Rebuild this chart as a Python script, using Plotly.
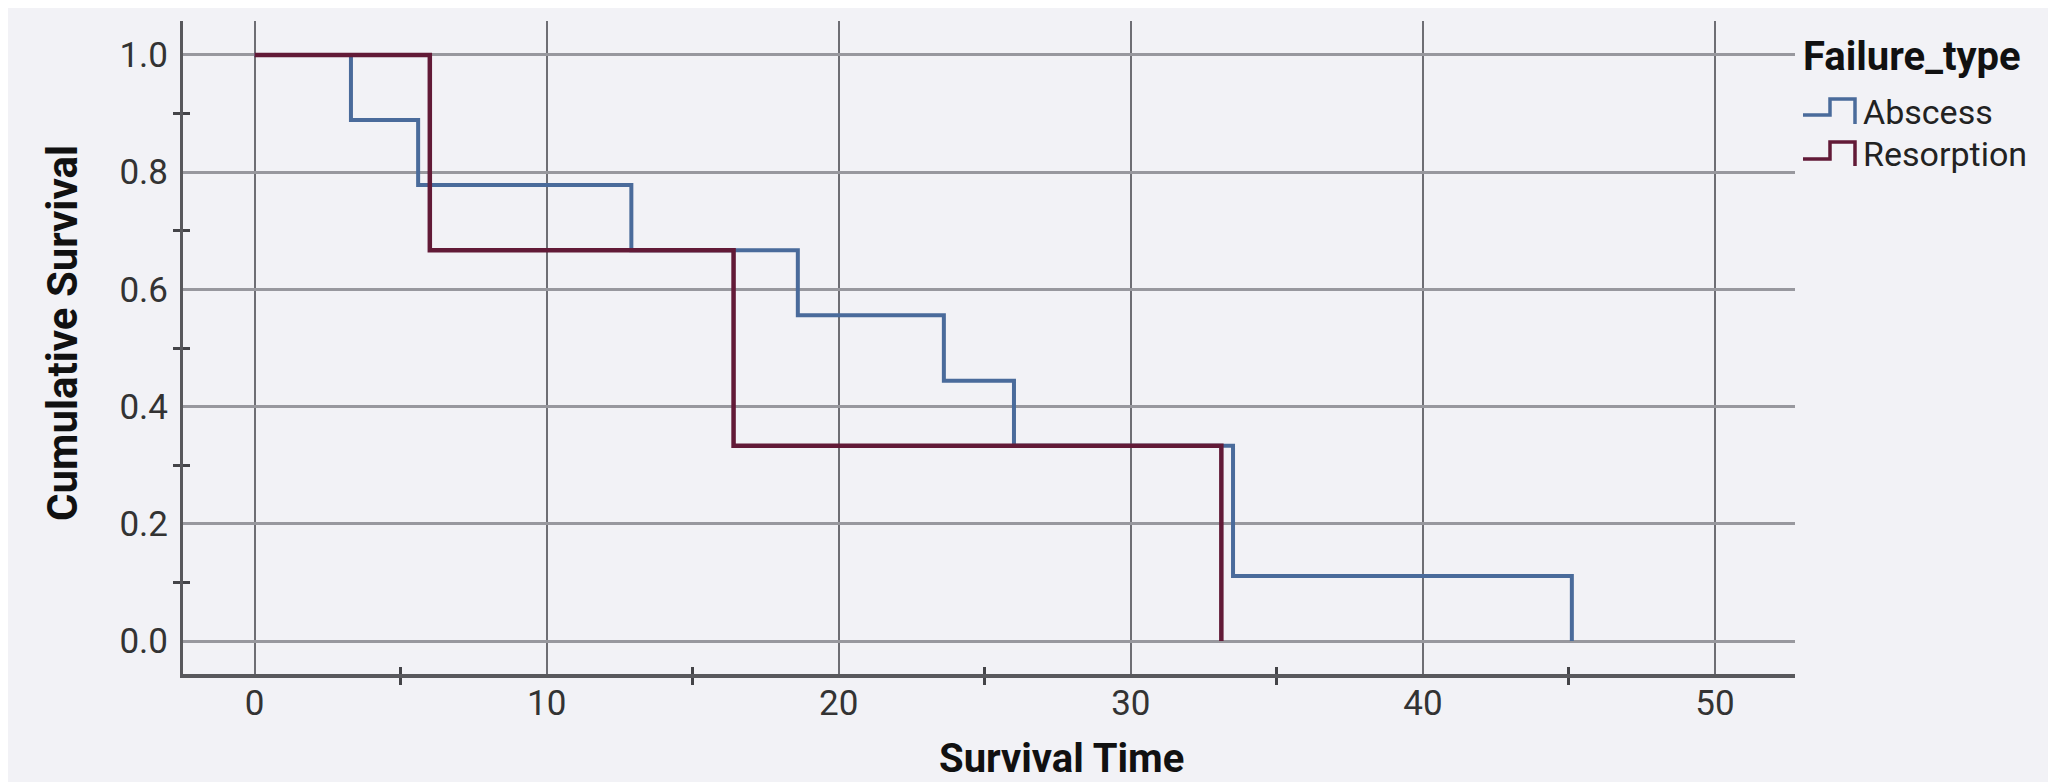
import plotly.graph_objects as go

# ---- data ----
abscess_time = [0, 3.3, 5.6, 12.9, 18.6, 23.6, 26.0, 33.5, 45.1]
abscess_surv = [1.0, 0.889, 0.778, 0.667, 0.556, 0.444, 0.333, 0.111, 0.0]
resorption_time = [0, 6.0, 16.4, 33.1]
resorption_surv = [1.0, 0.667, 0.333, 0.0]
series_names = ["Abscess", "Resorption"]
x_ticks = [0, 10, 20, 30, 40, 50]
y_ticks = [0.0, 0.2, 0.4, 0.6, 0.8, 1.0]
y_tick_labels = ["0.0", "0.2", "0.4", "0.6", "0.8", "1.0"]

# ---- styling ----
W, H = 2056, 782
ML, MR, MT, MB = 175, 269, 13, 116
BG = "#f2f2f6"
BLUE = "#4a6b9b"
MAROON = "#621a37"
XR = [-2.45, 52.74]
YR = [-0.0563, 1.058]
FONT = "Roboto"

def px_x(p):
    return (p - ML) / (W - ML - MR)

def px_y(p):
    return (H - MB - p) / (H - MT - MB)

fig = go.Figure()
fig.add_trace(go.Scatter(x=abscess_time, y=abscess_surv, mode="lines",
                         line=dict(shape="hv", color=BLUE, width=4),
                         name=series_names[0], showlegend=False))
fig.add_trace(go.Scatter(x=resorption_time, y=resorption_surv, mode="lines",
                         line=dict(shape="hv", color=MAROON, width=4.5),
                         name=series_names[1], showlegend=False))
# empty trace to activate overlay axes (for crossing minor ticks)
fig.add_trace(go.Scatter(x=[], y=[], xaxis="x2", yaxis="y2", showlegend=False))

fig.update_layout(
    width=W, height=H,
    margin=dict(l=ML, r=MR, t=MT, b=MB, pad=0),
    paper_bgcolor=BG, plot_bgcolor=BG,
    font=dict(family=FONT, color="#333333"),
    showlegend=False,
    xaxis=dict(range=XR, tickvals=x_ticks, ticktext=[str(v) for v in x_ticks],
               showgrid=True, gridcolor="#6e6e74", gridwidth=1.6,
               zeroline=False, showline=True, linecolor="#58585c", linewidth=4,
               ticks="", tickfont=dict(size=35, color="#333333", family=FONT),
               ticklabelstandoff=-5,
               minor=dict(tickvals=[5, 15, 25, 35, 45], ticks="outside", ticklen=7,
                          tickwidth=2.5, tickcolor="#444448", showgrid=False)),
    yaxis=dict(range=YR, tickvals=y_ticks, ticktext=y_tick_labels,
               showgrid=True, gridcolor="#98989e", gridwidth=3,
               zeroline=False, showline=True, linecolor="#58585c", linewidth=3,
               ticks="", tickfont=dict(size=35, color="#333333", family=FONT),
               ticklabelstandoff=5,
               minor=dict(tickvals=[0.1, 0.3, 0.5, 0.7, 0.9], ticks="outside", ticklen=7,
                          tickwidth=2.5, tickcolor="#444448", showgrid=False)),
    xaxis2=dict(range=XR, overlaying="x", anchor="y2", side="bottom",
                showgrid=False, zeroline=False, showline=False, showticklabels=False,
                ticks="", minor=dict(tickvals=[5, 15, 25, 35, 45], ticks="inside",
                                     ticklen=7, tickwidth=2.5, tickcolor="#444448",
                                     showgrid=False)),
    yaxis2=dict(range=YR, overlaying="y", anchor="x2", side="left",
                showgrid=False, zeroline=False, showline=False, showticklabels=False,
                ticks="", minor=dict(tickvals=[0.1, 0.3, 0.5, 0.7, 0.9], ticks="inside",
                                     ticklen=7, tickwidth=2.5, tickcolor="#444448",
                                     showgrid=False)),
)

annotations = [
    dict(text="<b>Survival Time</b>", x=px_x(1053), y=px_y(750), xref="paper", yref="paper",
         xanchor="center", yanchor="middle", showarrow=False,
         font=dict(size=40, color="#111111", family=FONT)),
    dict(text="<b>Cumulative Survival</b>", x=px_x(55), y=px_y(325), xref="paper", yref="paper",
         xanchor="center", yanchor="middle", showarrow=False, textangle=-90,
         font=dict(size=42, color="#111111", family=FONT)),
    dict(text="<b>Failure_type</b>", x=px_x(1793), y=px_y(48), xref="paper", yref="paper",
         xanchor="left", yanchor="middle", showarrow=False,
         font=dict(size=40, color="#111111", family=FONT)),
    dict(text=series_names[0], x=px_x(1853), y=px_y(104), xref="paper", yref="paper",
         xanchor="left", yanchor="middle", showarrow=False,
         font=dict(size=34, color="#222222", family=FONT)),
    dict(text=series_names[1], x=px_x(1853), y=px_y(146), xref="paper", yref="paper",
         xanchor="left", yanchor="middle", showarrow=False,
         font=dict(size=34, color="#222222", family=FONT)),
]
fig.update_layout(annotations=annotations)

def icon_path(y_low, y_high, y_end):
    pts = [(1795, y_low), (1822, y_low), (1822, y_high), (1847, y_high), (1847, y_end)]
    return "M " + " L ".join(f"{px_x(a):.5f},{px_y(b):.5f}" for a, b in pts)

fig.update_layout(shapes=[
    dict(type="path", path=icon_path(107, 91, 116), xref="paper", yref="paper",
         line=dict(color=BLUE, width=3.5)),
    dict(type="path", path=icon_path(151, 134, 158), xref="paper", yref="paper",
         line=dict(color=MAROON, width=3.5)),
])

fig.write_html("out.html")
